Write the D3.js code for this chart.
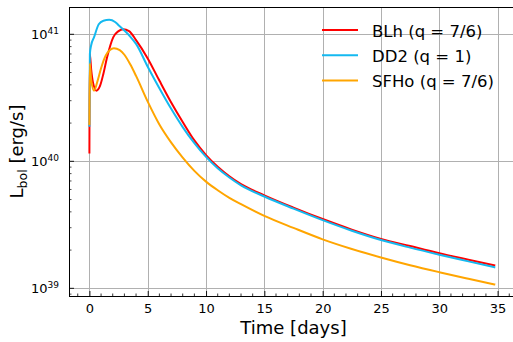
<!DOCTYPE html>
<html>
<head>
<meta charset="utf-8">
<script src="https://cdn.jsdelivr.net/npm/d3@7"></script>
<style>
	body { margin: 0; background: #fff; }
	svg { display: block; font-family: "DejaVu Sans", sans-serif; }
</style>
</head>
<body>
<div id="viz-container"></div>
<script>
// values, luminosity in erg/s
var seriesNames = ['BLh (q = 7/6)', 'DD2 (q = 1)', 'SFHo (q = 7/6)'];
var seriesColors = ['#ff0000', '#14b9f0', '#ffa500'];

var blhTime = [0, 0.03, 0.15, 0.3, 0.6, 0.9, 1.2, 1.5, 2.05, 2.5, 2.9, 3.4, 4, 5, 6, 7, 8, 9, 10, 11, 12, 13, 15, 17.5, 20, 22.5, 25, 27.5, 30, 32.5, 34.8];
var blhLum = [1.15e40, 7.1e40, 5.3e40, 4.2e40, 3.6e40, 3.9e40, 4.9e40, 6.5e40, 9.5e40, 1.06e41, 1.095e41, 1.06e41, 9.0e40, 6.46e40, 4.32e40, 2.92e40, 2.04e40, 1.46e40, 1.12e40, 9.06e39, 7.62e39, 6.61e39, 5.4e39, 4.32e39, 3.51e39, 2.9e39, 2.45e39, 2.15e39, 1.89e39, 1.68e39, 1.51e39];

var dd2Time = [0, 0.04, 0.15, 0.4, 0.8, 1.2, 1.7, 2.2, 2.5, 3.0, 3.5, 4, 5, 6, 7, 8, 9, 10, 11, 12, 13, 15, 17.5, 20, 22.5, 25, 27.5, 30, 32.5, 34.8];
var dd2Lum = [1.87e40, 7.0e40, 8.2e40, 9.5e40, 1.2e41, 1.28e41, 1.3e41, 1.25e41, 1.18e41, 1.07e41, 9.6e40, 8.4e40, 5.56e40, 3.76e40, 2.6e40, 1.86e40, 1.39e40, 1.084e40, 8.81e39, 7.45e39, 6.46e39, 5.28e39, 4.24e39, 3.44e39, 2.84e39, 2.4e39, 2.09e39, 1.84e39, 1.63e39, 1.46e39];

var sfhoTime = [0, 0.03, 0.15, 0.4, 0.7, 1.0, 1.4, 2.1, 2.6, 3.0, 3.5, 4, 5, 6, 7, 8, 9, 10, 11, 12, 13, 15, 17.5, 20, 22.5, 25, 27.5, 30, 32.5, 34.8];
var sfhoLum = [1.93e40, 5.9e40, 4.4e40, 3.6e40, 4.3e40, 5.4e40, 6.8e40, 7.76e40, 7.5e40, 6.9e40, 5.8e40, 4.7e40, 2.95e40, 1.95e40, 1.41e40, 1.07e40, 8.41e39, 6.92e39, 5.92e39, 5.16e39, 4.6e39, 3.72e39, 2.99e39, 2.43e39, 2.04e39, 1.75e39, 1.52e39, 1.34e39, 1.19e39, 1.07e39];

var xTicks = [0, 5, 10, 15, 20, 25, 30, 35];
var yTickExp = [39, 40, 41];

drawChart();

function drawChart () {
	var width = 513,
		height = 342,
		pLeft = 69,
		pRight = 518,
		pTop = 7,
		pBottom = 296;

	var x = d3.scaleLinear().domain([-1.75, 36.75]).range([pLeft, pRight]);
	var y = d3.scaleLog().domain([8.7e38, 1.64e41]).range([pBottom, pTop]);

	var svg = d3.select('#viz-container')
		.append('svg')
		.attr('width', width)
		.attr('height', height);

	svg.append('clipPath').attr('id', 'plot-clip')
		.append('rect')
		.attr('x', pLeft).attr('y', pTop)
		.attr('width', pRight - pLeft).attr('height', pBottom - pTop);

	// grid
	var grid = svg.append('g').attr('stroke', '#b0b0b0').attr('stroke-width', 1);
	grid.selectAll('line.vx')
		.data(xTicks)
		.enter()
		.append('line')
		.attr('x1', function(d){ return Math.round(x(d)) + 0.5; })
		.attr('x2', function(d){ return Math.round(x(d)) + 0.5; })
		.attr('y1', pTop)
		.attr('y2', pBottom);
	grid.selectAll('line.hy')
		.data(yTickExp)
		.enter()
		.append('line')
		.attr('y1', function(d){ return Math.round(y(Math.pow(10, d))) + 0.5; })
		.attr('y2', function(d){ return Math.round(y(Math.pow(10, d))) + 0.5; })
		.attr('x1', pLeft)
		.attr('x2', pRight);

	// curves
	var series = [
		{ t: blhTime, L: blhLum },
		{ t: dd2Time, L: dd2Lum },
		{ t: sfhoTime, L: sfhoLum }
	];

	var line = d3.line()
		.x(function(d){ return x(d[0]); })
		.y(function(d){ return y(d[1]); })
		.curve(d3.curveMonotoneX);

	svg.append('g')
		.attr('clip-path', 'url(#plot-clip)')
		.selectAll('path')
		.data(series)
		.enter()
		.append('path')
		.attr('fill', 'none')
		.attr('stroke', function(d, i){ return seriesColors[i]; })
		.attr('stroke-width', 2)
		.attr('stroke-linejoin', 'round')
		.attr('d', function(d){
			return line(d.t.map(function(t, i){ return [t, d.L[i]]; }));
		});

	// x axis, ticks pointing in
	var xAxis = d3.axisBottom(x)
		.tickValues(xTicks)
		.tickSizeInner(-5)
		.tickSizeOuter(0)
		.tickPadding(8)
		.tickFormat(d3.format('d'));
	var gx = svg.append('g')
		.attr('transform', 'translate(0,' + pBottom + ')')
		.call(xAxis);
	gx.select('.domain').remove();
	gx.selectAll('line').attr('stroke-width', 0.9);
	gx.selectAll('text')
		.attr('font-size', 13)
		.attr('fill', '#000')
		.attr('font-family', '"DejaVu Sans", sans-serif');

	var xMinor = d3.range(-1, 37).filter(function(d){ return d % 5 !== 0; });
	svg.append('g').selectAll('line')
		.data(xMinor)
		.enter()
		.append('line')
		.attr('x1', function(d){ return x(d); })
		.attr('x2', function(d){ return x(d); })
		.attr('y1', pBottom)
		.attr('y2', pBottom - 2.5)
		.attr('stroke', '#000')
		.attr('stroke-width', 0.8);

	// y axis, ticks pointing in
	var yMajor = yTickExp.map(function(e){ return Math.pow(10, e); });
	var yMinor = [];
	[38, 39, 40].forEach(function(e){
		for (var k = 2; k <= 9; k++) {
			var v = k * Math.pow(10, e);
			if (v >= y.domain()[0] && v <= y.domain()[1]) yMinor.push(v);
		}
	});

	var yTicks = svg.append('g');
	yTicks.selectAll('line.major')
		.data(yMajor)
		.enter()
		.append('line')
		.attr('x1', pLeft)
		.attr('x2', pLeft + 5)
		.attr('y1', function(d){ return y(d); })
		.attr('y2', function(d){ return y(d); })
		.attr('stroke', '#000')
		.attr('stroke-width', 0.9);
	yTicks.selectAll('line.minor')
		.data(yMinor)
		.enter()
		.append('line')
		.attr('x1', pLeft)
		.attr('x2', pLeft + 2.5)
		.attr('y1', function(d){ return y(d); })
		.attr('y2', function(d){ return y(d); })
		.attr('stroke', '#000')
		.attr('stroke-width', 0.7);

	var yLabels = svg.append('g')
		.selectAll('text')
		.data(yTickExp)
		.enter()
		.append('text')
		.attr('x', 59)
		.attr('y', function(d){ return y(Math.pow(10, d)) + 5; })
		.attr('text-anchor', 'end')
		.attr('font-size', 13)
		.attr('fill', '#000');
	yLabels.append('tspan').text('10');
	yLabels.append('tspan')
		.attr('dy', -5.5)
		.attr('font-size', 9)
		.text(function(d){ return d; });

	// spines
	svg.append('line')
		.attr('x1', pLeft + 0.5).attr('x2', pLeft + 0.5)
		.attr('y1', pTop).attr('y2', pBottom)
		.attr('stroke', '#000').attr('stroke-width', 1);
	svg.append('line')
		.attr('x1', pLeft).attr('x2', pRight)
		.attr('y1', pTop + 0.5).attr('y2', pTop + 0.5)
		.attr('stroke', '#000').attr('stroke-width', 1);
	svg.append('line')
		.attr('x1', pLeft).attr('x2', pRight)
		.attr('y1', pBottom + 0.5).attr('y2', pBottom + 0.5)
		.attr('stroke', '#000').attr('stroke-width', 1);

	// axis labels
	svg.append('text')
		.attr('x', (pLeft + pRight) / 2)
		.attr('y', 334)
		.attr('text-anchor', 'middle')
		.attr('font-size', 18)
		.text('Time [days]');

	var yl = svg.append('text')
		.attr('transform', 'translate(23,' + ((pTop + pBottom) / 2) + ') rotate(-90)')
		.attr('text-anchor', 'middle')
		.attr('font-size', 18);
	yl.append('tspan').text('L');
	yl.append('tspan').attr('dy', 4).attr('font-size', 12.5).text('bol');
	yl.append('tspan').attr('dy', -4).text(' [erg/s]');

	// legend
	var legend = svg.append('g')
		.selectAll('g')
		.data(seriesNames)
		.enter()
		.append('g')
		.attr('transform', function(d, i){ return 'translate(322,' + (30 + i * 25.3) + ')'; });
	legend.append('line')
		.attr('x1', 0).attr('x2', 36)
		.attr('stroke', function(d, i){ return seriesColors[i]; })
		.attr('stroke-width', 2);
	legend.append('text')
		.attr('x', 50)
		.attr('y', 6.5)
		.attr('font-size', 16.5)
		.text(function(d){ return d; });
}
</script>
</body>
</html>
